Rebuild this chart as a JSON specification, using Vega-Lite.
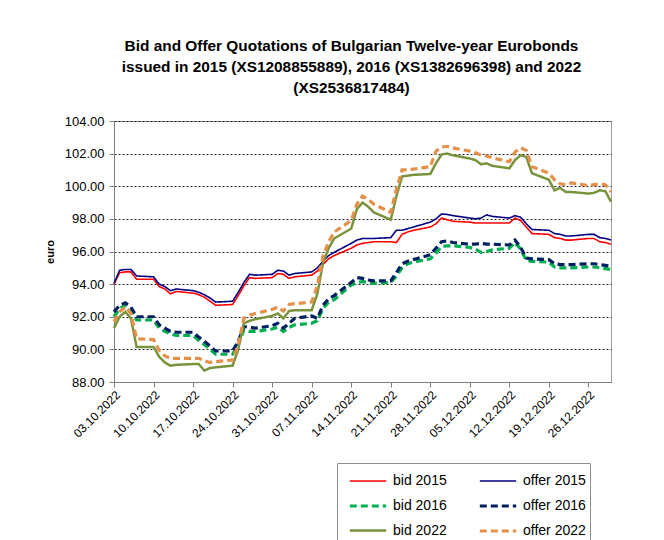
{
  "$schema": "https://vega.github.io/schema/vega-lite/v6.json",
  "width": 497,
  "height": 261,
  "autosize": {"type": "none"},
  "padding": {"left": 114, "top": 121, "right": 53, "bottom": 158},
  "background": "white",
  "title": {
    "text": ["Bid and Offer Quotations of Bulgarian Twelve-year Eurobonds", "issued in 2015 (XS1208855889), 2016 (XS1382696398) and 2022", "(XS2536817484)"],
    "font": "Liberation Sans, Arial, sans-serif",
    "fontSize": 15.4,
    "fontWeight": "bold",
    "color": "#000000",
    "anchor": "middle",
    "frame": "group",
    "lineHeight": 21,
    "offset": 19,
    "dx": -11
  },
  "data": {
    "values": [
      {"date": "2022-10-03", "bid 2015": 94.0, "offer 2015": 94.05, "bid 2016": 92.0, "offer 2016": 92.3, "bid 2022": 91.3, "offer 2022": 91.7},
      {"date": "2022-10-04", "bid 2015": 94.7, "offer 2015": 94.85, "bid 2016": 92.5, "offer 2016": 92.7, "bid 2022": 92.0, "offer 2022": 92.3},
      {"date": "2022-10-05", "bid 2015": 94.75, "offer 2015": 94.9, "bid 2016": 92.7, "offer 2016": 92.85, "bid 2022": 92.3, "offer 2022": 92.6},
      {"date": "2022-10-06", "bid 2015": 94.75, "offer 2015": 94.9, "bid 2016": 92.45, "offer 2016": 92.6, "bid 2022": 91.9, "offer 2022": 92.2},
      {"date": "2022-10-07", "bid 2015": 94.3, "offer 2015": 94.5, "bid 2016": 91.8, "offer 2016": 92.0, "bid 2022": 90.15, "offer 2022": 90.65},
      {"date": "2022-10-10", "bid 2015": 94.3, "offer 2015": 94.45, "bid 2016": 91.8, "offer 2016": 92.0, "bid 2022": 90.15, "offer 2022": 90.6},
      {"date": "2022-10-11", "bid 2015": 93.85, "offer 2015": 94.0, "bid 2016": 91.3, "offer 2016": 91.5, "bid 2022": 89.55, "offer 2022": 89.95},
      {"date": "2022-10-12", "bid 2015": 93.7, "offer 2015": 93.85, "bid 2016": 91.1, "offer 2016": 91.3, "bid 2022": 89.2, "offer 2022": 89.6},
      {"date": "2022-10-13", "bid 2015": 93.4, "offer 2015": 93.6, "bid 2016": 90.95, "offer 2016": 91.1, "bid 2022": 89.0, "offer 2022": 89.45},
      {"date": "2022-10-14", "bid 2015": 93.55, "offer 2015": 93.7, "bid 2016": 90.85, "offer 2016": 91.05, "bid 2022": 89.05, "offer 2022": 89.45},
      {"date": "2022-10-17", "bid 2015": 93.45, "offer 2015": 93.6, "bid 2016": 90.85, "offer 2016": 91.05, "bid 2022": 89.1, "offer 2022": 89.45},
      {"date": "2022-10-18", "bid 2015": 93.35, "offer 2015": 93.5, "bid 2016": 90.55, "offer 2016": 90.75, "bid 2022": 89.1, "offer 2022": 89.45},
      {"date": "2022-10-19", "bid 2015": 93.2, "offer 2015": 93.35, "bid 2016": 90.3, "offer 2016": 90.5, "bid 2022": 88.7, "offer 2022": 89.3},
      {"date": "2022-10-20", "bid 2015": 92.95, "offer 2015": 93.15, "bid 2016": 90.0, "offer 2016": 90.2, "bid 2022": 88.85, "offer 2022": 89.2},
      {"date": "2022-10-21", "bid 2015": 92.7, "offer 2015": 92.9, "bid 2016": 89.7, "offer 2016": 89.9, "bid 2022": 88.9, "offer 2022": 89.25},
      {"date": "2022-10-24", "bid 2015": 92.75, "offer 2015": 92.95, "bid 2016": 89.7, "offer 2016": 89.9, "bid 2022": 89.0, "offer 2022": 89.35},
      {"date": "2022-10-25", "bid 2015": 93.3, "offer 2015": 93.5, "bid 2016": 90.3, "offer 2016": 90.5, "bid 2022": 90.0, "offer 2022": 90.3},
      {"date": "2022-10-26", "bid 2015": 93.9, "offer 2015": 94.1, "bid 2016": 91.2, "offer 2016": 91.4, "bid 2022": 91.6, "offer 2022": 91.9},
      {"date": "2022-10-27", "bid 2015": 94.4, "offer 2015": 94.6, "bid 2016": 91.1, "offer 2016": 91.35, "bid 2022": 91.75, "offer 2022": 92.1},
      {"date": "2022-10-28", "bid 2015": 94.35, "offer 2015": 94.55, "bid 2016": 91.1, "offer 2016": 91.3, "bid 2022": 91.85, "offer 2022": 92.2},
      {"date": "2022-10-31", "bid 2015": 94.4, "offer 2015": 94.6, "bid 2016": 91.25, "offer 2016": 91.45, "bid 2022": 92.05, "offer 2022": 92.45},
      {"date": "2022-11-01", "bid 2015": 94.65, "offer 2015": 94.85, "bid 2016": 91.35, "offer 2016": 91.6, "bid 2022": 92.2, "offer 2022": 92.6},
      {"date": "2022-11-02", "bid 2015": 94.6, "offer 2015": 94.8, "bid 2016": 91.1, "offer 2016": 91.3, "bid 2022": 91.9, "offer 2022": 92.35},
      {"date": "2022-11-03", "bid 2015": 94.35, "offer 2015": 94.55, "bid 2016": 91.35, "offer 2016": 91.6, "bid 2022": 92.35, "offer 2022": 92.75},
      {"date": "2022-11-04", "bid 2015": 94.45, "offer 2015": 94.65, "bid 2016": 91.5, "offer 2016": 91.9, "bid 2022": 92.4, "offer 2022": 92.8},
      {"date": "2022-11-07", "bid 2015": 94.55, "offer 2015": 94.75, "bid 2016": 91.6, "offer 2016": 92.05, "bid 2022": 92.4, "offer 2022": 92.9},
      {"date": "2022-11-08", "bid 2015": 94.8, "offer 2015": 95.0, "bid 2016": 91.75, "offer 2016": 91.9, "bid 2022": 93.4, "offer 2022": 93.9},
      {"date": "2022-11-09", "bid 2015": 95.2, "offer 2015": 95.4, "bid 2016": 92.5, "offer 2016": 92.7, "bid 2022": 95.3, "offer 2022": 95.7},
      {"date": "2022-11-10", "bid 2015": 95.55, "offer 2015": 95.75, "bid 2016": 92.9, "offer 2016": 93.1, "bid 2022": 96.2, "offer 2022": 96.6},
      {"date": "2022-11-11", "bid 2015": 95.75, "offer 2015": 95.95, "bid 2016": 93.05, "offer 2016": 93.3, "bid 2022": 96.8, "offer 2022": 97.2},
      {"date": "2022-11-14", "bid 2015": 96.2, "offer 2015": 96.5, "bid 2016": 93.95, "offer 2016": 94.1, "bid 2022": 97.4, "offer 2022": 97.9},
      {"date": "2022-11-15", "bid 2015": 96.4, "offer 2015": 96.7, "bid 2016": 94.1, "offer 2016": 94.4, "bid 2022": 98.6, "offer 2022": 98.9},
      {"date": "2022-11-16", "bid 2015": 96.5, "offer 2015": 96.8, "bid 2016": 94.15, "offer 2016": 94.35, "bid 2022": 99.0, "offer 2022": 99.4},
      {"date": "2022-11-17", "bid 2015": 96.55, "offer 2015": 96.8, "bid 2016": 94.1, "offer 2016": 94.25, "bid 2022": 98.75, "offer 2022": 99.2},
      {"date": "2022-11-18", "bid 2015": 96.6, "offer 2015": 96.8, "bid 2016": 94.05, "offer 2016": 94.2, "bid 2022": 98.4, "offer 2022": 98.9},
      {"date": "2022-11-21", "bid 2015": 96.6, "offer 2015": 96.85, "bid 2016": 94.1, "offer 2016": 94.2, "bid 2022": 97.95, "offer 2022": 98.4},
      {"date": "2022-11-22", "bid 2015": 96.55, "offer 2015": 97.3, "bid 2016": 94.5, "offer 2016": 94.7, "bid 2022": 99.4, "offer 2022": 99.8},
      {"date": "2022-11-23", "bid 2015": 97.05, "offer 2015": 97.3, "bid 2016": 95.0, "offer 2016": 95.25, "bid 2022": 100.6, "offer 2022": 101.0},
      {"date": "2022-11-24", "bid 2015": 97.2, "offer 2015": 97.4, "bid 2016": 95.25, "offer 2016": 95.4, "bid 2022": 100.65, "offer 2022": 101.0},
      {"date": "2022-11-25", "bid 2015": 97.3, "offer 2015": 97.5, "bid 2016": 95.35, "offer 2016": 95.5, "bid 2022": 100.7, "offer 2022": 101.05},
      {"date": "2022-11-28", "bid 2015": 97.5, "offer 2015": 97.8, "bid 2016": 95.55, "offer 2016": 95.8, "bid 2022": 100.75, "offer 2022": 101.2},
      {"date": "2022-11-29", "bid 2015": 97.7, "offer 2015": 98.0, "bid 2016": 95.9, "offer 2016": 96.2, "bid 2022": 101.4, "offer 2022": 102.15},
      {"date": "2022-11-30", "bid 2015": 98.05, "offer 2015": 98.3, "bid 2016": 96.3, "offer 2016": 96.6, "bid 2022": 101.95, "offer 2022": 102.4},
      {"date": "2022-12-01", "bid 2015": 97.95, "offer 2015": 98.27, "bid 2016": 96.35, "offer 2016": 96.65, "bid 2022": 102.0, "offer 2022": 102.45},
      {"date": "2022-12-02", "bid 2015": 97.85, "offer 2015": 98.2, "bid 2016": 96.35, "offer 2016": 96.55, "bid 2022": 101.9, "offer 2022": 102.35},
      {"date": "2022-12-05", "bid 2015": 97.8, "offer 2015": 98.05, "bid 2016": 96.25, "offer 2016": 96.45, "bid 2022": 101.7, "offer 2022": 102.15},
      {"date": "2022-12-06", "bid 2015": 97.75, "offer 2015": 98.0, "bid 2016": 96.15, "offer 2016": 96.45, "bid 2022": 101.6, "offer 2022": 102.05},
      {"date": "2022-12-07", "bid 2015": 97.75, "offer 2015": 98.05, "bid 2016": 95.95, "offer 2016": 96.5, "bid 2022": 101.35, "offer 2022": 101.9},
      {"date": "2022-12-08", "bid 2015": 97.75, "offer 2015": 98.25, "bid 2016": 96.0, "offer 2016": 96.45, "bid 2022": 101.4, "offer 2022": 101.85},
      {"date": "2022-12-09", "bid 2015": 97.75, "offer 2015": 98.15, "bid 2016": 96.1, "offer 2016": 96.45, "bid 2022": 101.25, "offer 2022": 101.75},
      {"date": "2022-12-12", "bid 2015": 97.75, "offer 2015": 98.05, "bid 2016": 96.2, "offer 2016": 96.4, "bid 2022": 101.1, "offer 2022": 101.5},
      {"date": "2022-12-13", "bid 2015": 98.05, "offer 2015": 98.2, "bid 2016": 96.55, "offer 2016": 96.7, "bid 2022": 101.6, "offer 2022": 102.1},
      {"date": "2022-12-14", "bid 2015": 97.9, "offer 2015": 98.1, "bid 2016": 96.15, "offer 2016": 96.25, "bid 2022": 101.9, "offer 2022": 102.35},
      {"date": "2022-12-15", "bid 2015": 97.5, "offer 2015": 97.7, "bid 2016": 95.45, "offer 2016": 95.6, "bid 2022": 101.8, "offer 2022": 102.2},
      {"date": "2022-12-16", "bid 2015": 97.1, "offer 2015": 97.35, "bid 2016": 95.4, "offer 2016": 95.55, "bid 2022": 100.8, "offer 2022": 101.2},
      {"date": "2022-12-19", "bid 2015": 97.05, "offer 2015": 97.3, "bid 2016": 95.35, "offer 2016": 95.5, "bid 2022": 100.4, "offer 2022": 100.8},
      {"date": "2022-12-20", "bid 2015": 96.85, "offer 2015": 97.1, "bid 2016": 95.05, "offer 2016": 95.25, "bid 2022": 99.75, "offer 2022": 100.4},
      {"date": "2022-12-21", "bid 2015": 96.8, "offer 2015": 97.05, "bid 2016": 95.0, "offer 2016": 95.2, "bid 2022": 99.9, "offer 2022": 100.15},
      {"date": "2022-12-22", "bid 2015": 96.7, "offer 2015": 96.95, "bid 2016": 95.0, "offer 2016": 95.2, "bid 2022": 99.65, "offer 2022": 100.1},
      {"date": "2022-12-23", "bid 2015": 96.7, "offer 2015": 96.95, "bid 2016": 95.0, "offer 2016": 95.2, "bid 2022": 99.65, "offer 2022": 100.2},
      {"date": "2022-12-26", "bid 2015": 96.8, "offer 2015": 97.05, "bid 2016": 95.05, "offer 2016": 95.25, "bid 2022": 99.55, "offer 2022": 100.05},
      {"date": "2022-12-27", "bid 2015": 96.8, "offer 2015": 97.05, "bid 2016": 95.05, "offer 2016": 95.25, "bid 2022": 99.6, "offer 2022": 100.1},
      {"date": "2022-12-28", "bid 2015": 96.6, "offer 2015": 96.85, "bid 2016": 95.0, "offer 2016": 95.2, "bid 2022": 99.75, "offer 2022": 100.15},
      {"date": "2022-12-29", "bid 2015": 96.55, "offer 2015": 96.8, "bid 2016": 94.95, "offer 2016": 95.15, "bid 2022": 99.7, "offer 2022": 100.1},
      {"date": "2022-12-30", "bid 2015": 96.45, "offer 2015": 96.7, "bid 2016": 94.9, "offer 2016": 95.1, "bid 2022": 99.05, "offer 2022": 99.65}
    ]
  },
  "transform": [
    {"fold": ["bid 2015", "offer 2015", "bid 2016", "offer 2016", "bid 2022", "offer 2022"], "as": ["series", "value"]}
  ],
  "mark": {"type": "line", "interpolate": "linear", "strokeCap": "butt"},
  "encoding": {
    "x": {
      "field": "date",
      "type": "temporal",
      "scale": {
        "type": "utc",
        "domain": [{"year": 2022, "month": 10, "date": 3, "utc": true}, {"year": 2022, "month": 12, "date": 30, "utc": true}]
      },
      "axis": {
        "title": null,
        "grid": false,
        "values": [
          {"year": 2022, "month": 10, "date": 3, "utc": true},
          {"year": 2022, "month": 10, "date": 10, "utc": true},
          {"year": 2022, "month": 10, "date": 17, "utc": true},
          {"year": 2022, "month": 10, "date": 24, "utc": true},
          {"year": 2022, "month": 10, "date": 31, "utc": true},
          {"year": 2022, "month": 11, "date": 7, "utc": true},
          {"year": 2022, "month": 11, "date": 14, "utc": true},
          {"year": 2022, "month": 11, "date": 21, "utc": true},
          {"year": 2022, "month": 11, "date": 28, "utc": true},
          {"year": 2022, "month": 12, "date": 5, "utc": true},
          {"year": 2022, "month": 12, "date": 12, "utc": true},
          {"year": 2022, "month": 12, "date": 19, "utc": true},
          {"year": 2022, "month": 12, "date": 26, "utc": true}
        ],
        "format": "%d.%m.%Y",
        "labelAngle": -45,
        "labelFont": "Liberation Sans, Arial, sans-serif",
        "labelFontSize": 12,
        "labelColor": "#000000",
        "labelPadding": 2,
        "labelOverlap": false,
        "labelFlush": false,
        "tickColor": "#808080",
        "tickSize": 5,
        "domainColor": "#808080"
      }
    },
    "y": {
      "field": "value",
      "type": "quantitative",
      "scale": {"domain": [88, 104], "nice": false, "zero": false},
      "axis": {
        "title": "euro",
        "titleFont": "Liberation Sans, Arial, sans-serif",
        "titleFontSize": 11,
        "titleFontWeight": "bold",
        "titleColor": "#000000",
        "titlePadding": 9,
        "values": [88, 90, 92, 94, 96, 98, 100, 102, 104],
        "format": ".2f",
        "labelFont": "Liberation Sans, Arial, sans-serif",
        "labelFontSize": 13,
        "labelColor": "#000000",
        "labelPadding": 5,
        "tickColor": "#808080",
        "tickSize": 5,
        "domainColor": "#808080",
        "grid": true,
        "gridColor": "#000000",
        "gridDash": [2, 2],
        "gridWidth": 1,
        "gridOpacity": 0.85
      }
    },
    "color": {
      "field": "series",
      "type": "nominal",
      "scale": {
        "domain": ["bid 2015", "bid 2016", "bid 2022", "offer 2015", "offer 2016", "offer 2022"],
        "range": ["#ff0000", "#00b050", "#77933c", "#000080", "#002060", "#e5904a"]
      },
      "legend": {"title": null}
    },
    "strokeDash": {
      "field": "series",
      "type": "nominal",
      "scale": {
        "domain": ["bid 2015", "bid 2016", "bid 2022", "offer 2015", "offer 2016", "offer 2022"],
        "range": [[1, 0], [7, 4], [1, 0], [1, 0], [7, 4], [7, 4]]
      },
      "legend": {"title": null}
    },
    "strokeWidth": {
      "field": "series",
      "type": "nominal",
      "scale": {
        "type": "ordinal",
        "domain": ["bid 2015", "bid 2016", "bid 2022", "offer 2015", "offer 2016", "offer 2022"],
        "range": [1.6, 3.2, 2.5, 1.6, 3.2, 3.2]
      },
      "legend": {"title": null}
    }
  },
  "config": {
    "view": {"stroke": "#a0a0a0"},
    "legend": {
      "orient": "none",
      "legendX": 223,
      "legendY": 342,
      "columns": 2,
      "columnPadding": 24,
      "rowPadding": 3,
      "symbolType": "M-1.4,0H1.4",
      "symbolSize": 676,
      "symbolOffset": 12,
      "labelFont": "Liberation Sans, Arial, sans-serif",
      "labelFontSize": 14,
      "labelColor": "#000000",
      "labelOffset": 10,
      "strokeColor": "#909090",
      "fillColor": "#ffffff",
      "padding": 4
    }
  }
}
